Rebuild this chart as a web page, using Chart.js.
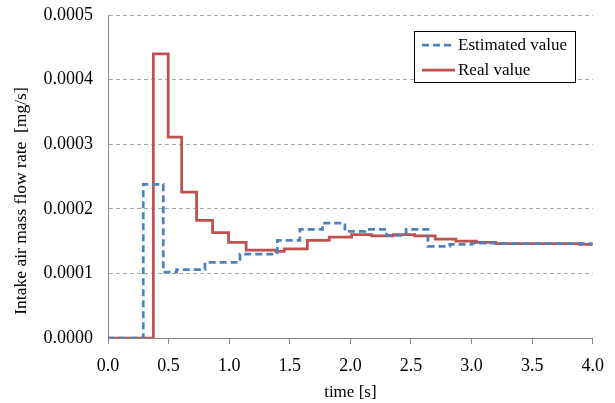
<!DOCTYPE html>
<html>
<head>
<meta charset="utf-8">
<script src="https://cdn.jsdelivr.net/npm/chart.js@4"></script>
<style>
  html, body { margin: 0; padding: 0; background: #fff; }
  #wrap { width: 615px; height: 403px; }
</style>
</head>
<body>
<div id="wrap"><canvas id="myChart" width="615" height="403"></canvas></div>
<script>
// step start times [s] and values [mg/s]
var estTime  = [0, 0.291, 0.456, 0.566, 0.80, 1.089, 1.397, 1.583, 1.77, 1.955, 2.12, 2.30, 2.46, 2.64, 2.82, 3.0, 3.2, 4.0];
var estValue = [0, 0.000238, 0.000102, 0.000106, 0.000117, 0.000130, 0.000151, 0.000168, 0.000178, 0.000165, 0.000168, 0.000159, 0.000168, 0.000142, 0.000145, 0.000147, 0.000146, 0.000146];

var realTime  = [0, 0.374, 0.497, 0.608, 0.731, 0.863, 0.995, 1.14, 1.385, 1.455, 1.645, 1.825, 2.01, 2.175, 2.353, 2.53, 2.70, 2.87, 3.04, 3.2, 3.89, 4.0];
var realValue = [0, 0.00044, 0.000311, 0.000226, 0.000182, 0.000163, 0.000148, 0.000136, 0.000134, 0.000138, 0.000151, 0.000156, 0.00016, 0.000158, 0.00016, 0.000158, 0.000153, 0.00015, 0.000148, 0.000146, 0.000145, 0.000145];

var seriesNames = ["Estimated value", "Real value"];
var xTicks = [0, 0.5, 1.0, 1.5, 2.0, 2.5, 3.0, 3.5, 4.0];
var yTicks = [0, 0.0001, 0.0002, 0.0003, 0.0004, 0.0005];
var yTitle = "Intake air mass flow rate  [mg/s]";

function toPoints(xs, ys) {
    return xs.map(function (x, i) { return {x: x, y: ys[i]}; });
}

var serif = "'Liberation Serif', 'Times New Roman', serif";
Chart.defaults.font.family = serif;
Chart.defaults.font.size = 16;
Chart.defaults.color = "#000";

// legend box drawn inside the plot, like the original
var boxLegend = {
    id: "boxLegend",
    afterDraw: function (chart) {
        var ctx = chart.ctx;
        ctx.save();
        ctx.fillStyle = "#fff";
        ctx.fillRect(414, 31, 161, 51);
        ctx.strokeStyle = "#000";
        ctx.lineWidth = 1;
        ctx.strokeRect(414.5, 31.5, 161, 51);
        var rows = [45, 70];
        chart.data.datasets.forEach(function (ds, i) {
            ctx.beginPath();
            ctx.strokeStyle = ds.borderColor;
            ctx.lineWidth = ds.borderWidth;
            ctx.setLineDash(ds.borderDash || []);
            ctx.moveTo(422, rows[i]);
            ctx.lineTo(455, rows[i]);
            ctx.stroke();
            ctx.setLineDash([]);
            ctx.fillStyle = "#000";
            ctx.font = "17px " + serif;
            ctx.textBaseline = "middle";
            ctx.fillText(ds.label, 458, rows[i] + 1);
        });
        ctx.restore();
    }
};

// y title sits a bit below the middle of the axis in the original
var sideTitle = {
    id: "sideTitle",
    afterDraw: function (chart) {
        var ctx = chart.ctx;
        ctx.save();
        ctx.translate(21, 201);
        ctx.rotate(-Math.PI / 2);
        ctx.fillStyle = "#000";
        ctx.font = "17.5px " + serif;
        ctx.textAlign = "center";
        ctx.textBaseline = "middle";
        ctx.fillText(yTitle, 0, 0);
        ctx.restore();
    }
};

new Chart("myChart", {
    type: "line",
    data: {
        datasets: [
            {
                label: seriesNames[0],
                data: toPoints(estTime, estValue),
                borderColor: "#4F81BD",
                borderWidth: 2.75,
                borderDash: [7, 4],
                stepped: "before",
                pointRadius: 0,
                fill: false
            },
            {
                label: seriesNames[1],
                data: toPoints(realTime, realValue),
                borderColor: "#C0504D",
                borderWidth: 2.75,
                stepped: "before",
                pointRadius: 0,
                fill: false
            }
        ]
    },
    options: {
        responsive: false,
        animation: false,
        layout: { padding: { left: 0, top: 15, right: 22, bottom: 0 } },
        plugins: {
            legend: { display: false },
            tooltip: { enabled: false }
        },
        scales: {
            x: {
                type: "linear",
                min: 0,
                max: 4,
                afterBuildTicks: function (scale) {
                    scale.ticks = xTicks.map(function (v) { return {value: v}; });
                },
                afterFit: function (scale) { scale.height = 65; },
                grid: {
                    drawOnChartArea: false,
                    drawTicks: true,
                    tickLength: 6,
                    color: "#868686"
                },
                border: { color: "#868686", width: 1 },
                ticks: {
                    padding: 11,
                    color: "#000",
                    font: { family: serif, size: 18 },
                    callback: function (v) { return Number(v).toFixed(1); }
                },
                title: {
                    display: true,
                    text: "time [s]",
                    color: "#000",
                    font: { family: serif, size: 17 },
                    padding: { top: 4, bottom: 0 }
                }
            },
            y: {
                min: 0,
                max: 0.0005,
                afterBuildTicks: function (scale) {
                    scale.ticks = yTicks.map(function (v) { return {value: v}; });
                },
                afterFit: function (scale) {
                    scale.width = 108;
                    scale.paddingTop = 0;
                    scale.paddingBottom = 0;
                },
                grid: {
                    drawTicks: false,
                    color: function (c) { return c.tick && c.tick.value === 0 ? "rgba(0,0,0,0)" : "#A6A6A6"; },
                    lineWidth: 1
                },
                border: { color: "#868686", width: 1, dash: [4, 3] },
                ticks: {
                    padding: 15,
                    color: "#000",
                    font: { family: serif, size: 18 },
                    callback: function (v) { return Number(v).toFixed(4); }
                },
                title: { display: false }
            }
        }
    },
    plugins: [boxLegend, sideTitle]
});
</script>
</body>
</html>
